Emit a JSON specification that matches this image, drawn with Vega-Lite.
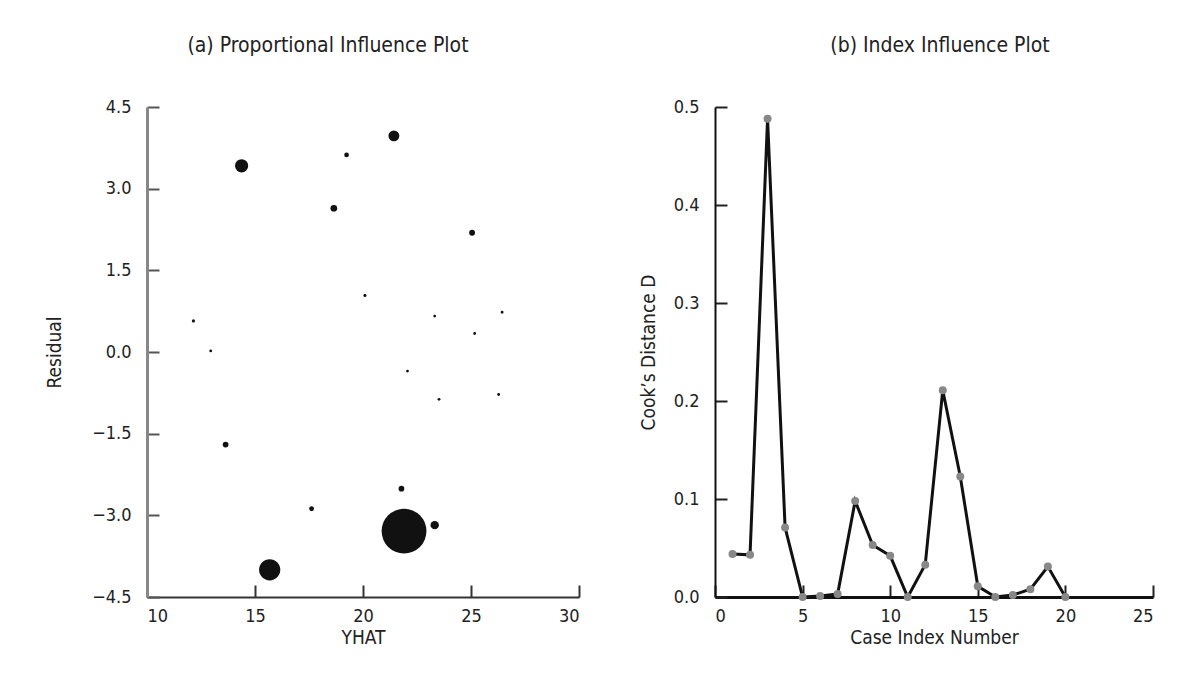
{
  "$schema": "https://vega.github.io/schema/vega-lite/v6.json",
  "background": "white",
  "padding": {"left": 45, "top": 35, "right": 10, "bottom": 10},
  "spacing": 136,
  "bounds": "flush",
  "config": {
    "view": {"stroke": null},
    "font": "DejaVu Sans Condensed, Lato, sans-serif",
    "axis": {
      "grid": false,
      "labelFontSize": 18,
      "titleFontSize": 19,
      "labelColor": "#222",
      "titleColor": "#222",
      "titleFontWeight": "normal",
      "tickSize": -12,
      "domainWidth": 2,
      "tickWidth": 2,
      "domainColor": "#222",
      "tickColor": "#222"
    },
    "axisX": {"labelPadding": 22, "titleBaseline": "middle", "titleY": 40},
    "axisY": {"labelPadding": 28, "titleBaseline": "middle"},
    "title": {"fontSize": 21, "fontWeight": "normal", "color": "#222", "offset": 42}
  },
  "hconcat": [
    {
      "title": {"text": "(a) Proportional Influence Plot", "dx": -35},
      "width": 432,
      "height": 490,
      "data": {"values": [
        {"YHAT": 21.90, "Residual": -3.29, "CooksD": 0.488},
        {"YHAT": 15.68, "Residual": -4.00, "CooksD": 0.211},
        {"YHAT": 14.38, "Residual": 3.42, "CooksD": 0.123},
        {"YHAT": 21.43, "Residual": 3.97, "CooksD": 0.098},
        {"YHAT": 23.32, "Residual": -3.18, "CooksD": 0.071},
        {"YHAT": 18.65, "Residual": 2.64, "CooksD": 0.053},
        {"YHAT": 25.05, "Residual": 2.19, "CooksD": 0.044},
        {"YHAT": 13.64, "Residual": -1.70, "CooksD": 0.043},
        {"YHAT": 21.78, "Residual": -2.51, "CooksD": 0.042},
        {"YHAT": 17.62, "Residual": -2.88, "CooksD": 0.033},
        {"YHAT": 19.24, "Residual": 3.62, "CooksD": 0.031},
        {"YHAT": 12.15, "Residual": 0.57, "CooksD": 0.011},
        {"YHAT": 20.09, "Residual": 1.04, "CooksD": 0.008},
        {"YHAT": 26.44, "Residual": 0.73, "CooksD": 0.003},
        {"YHAT": 23.32, "Residual": 0.66, "CooksD": 0.002},
        {"YHAT": 22.06, "Residual": -0.35, "CooksD": 0.002},
        {"YHAT": 25.17, "Residual": 0.34, "CooksD": 0.001},
        {"YHAT": 12.95, "Residual": 0.02, "CooksD": 0.0},
        {"YHAT": 23.52, "Residual": -0.87, "CooksD": 0.0},
        {"YHAT": 26.28, "Residual": -0.78, "CooksD": 0.0}
      ]},
      "mark": {"type": "circle", "color": "#111", "opacity": 1},
      "encoding": {
        "x": {"field": "YHAT", "type": "quantitative",
              "scale": {"domain": [10, 30], "nice": false, "zero": false},
              "axis": {"values": [10, 15, 20, 25, 30], "title": "YHAT", "domainColor": "#333", "tickColor": "#333"}},
        "y": {"field": "Residual", "type": "quantitative",
              "scale": {"domain": [-4.5, 4.5], "nice": false},
              "axis": {"values": [-4.5, -3, -1.5, 0, 1.5, 3, 4.5], "format": ".1f", "title": "Residual", "titleX": -93, "domainColor": "#888", "domainWidth": 3, "tickColor": "#555"}},
        "size": {"field": "CooksD", "type": "quantitative",
                 "scale": {"type": "pow", "exponent": 1.8, "domain": [0, 0.5], "range": [8, 2100]},
                 "legend": null}
      }
    },
    {
      "title": {"text": "(b) Index Influence Plot", "dx": 6},
      "width": 438,
      "height": 490,
      "data": {"values": [
        {"Case": 1, "D": 0.044},
        {"Case": 2, "D": 0.043},
        {"Case": 3, "D": 0.488},
        {"Case": 4, "D": 0.071},
        {"Case": 5, "D": 0.0},
        {"Case": 6, "D": 0.001},
        {"Case": 7, "D": 0.003},
        {"Case": 8, "D": 0.098},
        {"Case": 9, "D": 0.053},
        {"Case": 10, "D": 0.042},
        {"Case": 11, "D": 0.0},
        {"Case": 12, "D": 0.033},
        {"Case": 13, "D": 0.211},
        {"Case": 14, "D": 0.123},
        {"Case": 15, "D": 0.011},
        {"Case": 16, "D": 0.0},
        {"Case": 17, "D": 0.002},
        {"Case": 18, "D": 0.008},
        {"Case": 19, "D": 0.031},
        {"Case": 20, "D": 0.0}
      ]},
      "encoding": {
        "x": {"field": "Case", "type": "quantitative",
              "scale": {"domain": [0, 25], "nice": false},
              "axis": {"values": [0, 5, 10, 15, 20, 25], "title": "Case Index Number", "domainWidth": 3, "domainColor": "#111"}},
        "y": {"field": "D", "type": "quantitative",
              "scale": {"domain": [0, 0.5], "nice": false},
              "axis": {"values": [0, 0.1, 0.2, 0.3, 0.4, 0.5], "format": ".1f", "title": "Cook’s Distance D", "titleX": -67, "domainColor": "#111"}}
      },
      "layer": [
        {"mark": {"type": "line", "color": "#111", "strokeWidth": 3}},
        {"mark": {"type": "circle", "color": "#888", "size": 64, "opacity": 1}}
      ]
    }
  ]
}
